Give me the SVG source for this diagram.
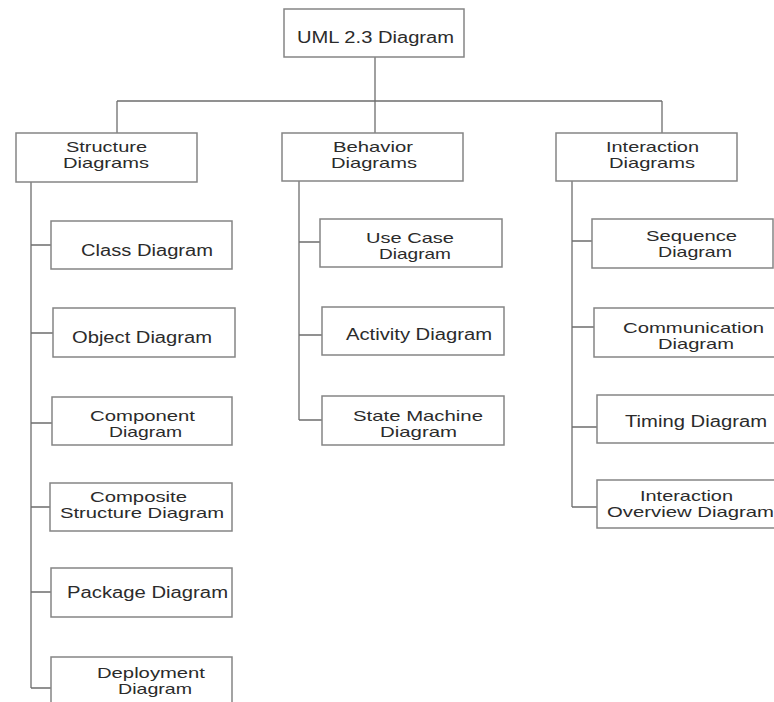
<svg xmlns="http://www.w3.org/2000/svg" width="774" height="702" viewBox="0 0 774 702">
<style>
.box{fill:#fff;stroke:#858585;stroke-width:1.5}
.lbl{font-family:"Liberation Sans",Arial,sans-serif;font-size:14.5px;fill:#2b2b2b}
.con{fill:none;stroke:#6e6e6e;stroke-width:1.3}
</style>
<rect width="774" height="702" fill="#fff"/>
<g id="connectors">
<path class="con" d="M375 57V133M117 101H662M117 101V133M662 101V133"/>
<path class="con" d="M31 182V688M31 245H51M31 333H53M31 423H52M31 507H50M31 592H51M31 688H51"/>
<path class="con" d="M299 181V420M299 242H320M299 335H322M299 420H322"/>
<path class="con" d="M572 181V507M572 241H592M572 327H594M572 427H597M572 507H597"/>
</g>
<g id="uml">
<rect class="box" x="284" y="9" width="180" height="48"/>
<text class="lbl" x="297" y="43" textLength="157" lengthAdjust="spacingAndGlyphs" style="font-size:16px">UML 2.3 Diagram</text>
</g>
<g id="structure">
<rect class="box" x="16" y="133" width="181" height="49"/>
<text class="lbl" x="66" y="152" textLength="81" lengthAdjust="spacingAndGlyphs">Structure</text>
<text class="lbl" x="63" y="168" textLength="86" lengthAdjust="spacingAndGlyphs">Diagrams</text>
</g>
<g id="behavior">
<rect class="box" x="282" y="133" width="181" height="48"/>
<text class="lbl" x="333" y="152" textLength="80" lengthAdjust="spacingAndGlyphs">Behavior</text>
<text class="lbl" x="331" y="168" textLength="86" lengthAdjust="spacingAndGlyphs">Diagrams</text>
</g>
<g id="interaction">
<rect class="box" x="556" y="133" width="181" height="48"/>
<text class="lbl" x="606" y="152" textLength="93" lengthAdjust="spacingAndGlyphs">Interaction</text>
<text class="lbl" x="609" y="168" textLength="86" lengthAdjust="spacingAndGlyphs">Diagrams</text>
</g>
<g id="class">
<rect class="box" x="51" y="221" width="181" height="48"/>
<text class="lbl" x="81" y="256" textLength="132" lengthAdjust="spacingAndGlyphs" style="font-size:16px">Class Diagram</text>
</g>
<g id="object">
<rect class="box" x="53" y="308" width="182" height="49"/>
<text class="lbl" x="72" y="343" textLength="140" lengthAdjust="spacingAndGlyphs" style="font-size:16px">Object Diagram</text>
</g>
<g id="component">
<rect class="box" x="52" y="397" width="180" height="48"/>
<text class="lbl" x="90" y="421" textLength="105" lengthAdjust="spacingAndGlyphs">Component</text>
<text class="lbl" x="109" y="437" textLength="73" lengthAdjust="spacingAndGlyphs">Diagram</text>
</g>
<g id="composite">
<rect class="box" x="50" y="483" width="182" height="48"/>
<text class="lbl" x="90" y="502" textLength="97" lengthAdjust="spacingAndGlyphs">Composite</text>
<text class="lbl" x="60" y="518" textLength="164" lengthAdjust="spacingAndGlyphs">Structure Diagram</text>
</g>
<g id="package">
<rect class="box" x="51" y="568" width="181" height="49"/>
<text class="lbl" x="67" y="598" textLength="161" lengthAdjust="spacingAndGlyphs" style="font-size:16px">Package Diagram</text>
</g>
<g id="deployment">
<rect class="box" x="51" y="657" width="181" height="50"/>
<text class="lbl" x="97" y="678" textLength="108" lengthAdjust="spacingAndGlyphs">Deployment</text>
<text class="lbl" x="118" y="694" textLength="74" lengthAdjust="spacingAndGlyphs">Diagram</text>
</g>
<g id="usecase">
<rect class="box" x="320" y="219" width="182" height="48"/>
<text class="lbl" x="366" y="243" textLength="88" lengthAdjust="spacingAndGlyphs">Use Case</text>
<text class="lbl" x="379" y="259" textLength="72" lengthAdjust="spacingAndGlyphs">Diagram</text>
</g>
<g id="activity">
<rect class="box" x="322" y="307" width="182" height="48"/>
<text class="lbl" x="346" y="340" textLength="146" lengthAdjust="spacingAndGlyphs" style="font-size:16px">Activity Diagram</text>
</g>
<g id="statemachine">
<rect class="box" x="322" y="396" width="182" height="49"/>
<text class="lbl" x="353" y="421" textLength="130" lengthAdjust="spacingAndGlyphs">State Machine</text>
<text class="lbl" x="380" y="437" textLength="77" lengthAdjust="spacingAndGlyphs">Diagram</text>
</g>
<g id="sequence">
<rect class="box" x="592" y="219" width="181" height="49"/>
<text class="lbl" x="646" y="241" textLength="91" lengthAdjust="spacingAndGlyphs">Sequence</text>
<text class="lbl" x="658" y="257" textLength="74" lengthAdjust="spacingAndGlyphs">Diagram</text>
</g>
<g id="communication">
<rect class="box" x="594" y="308" width="190" height="49"/>
<text class="lbl" x="623" y="333" textLength="141" lengthAdjust="spacingAndGlyphs">Communication</text>
<text class="lbl" x="658" y="349" textLength="76" lengthAdjust="spacingAndGlyphs">Diagram</text>
</g>
<g id="timing">
<rect class="box" x="597" y="395" width="190" height="48"/>
<text class="lbl" x="625" y="427" textLength="142" lengthAdjust="spacingAndGlyphs" style="font-size:16px">Timing Diagram</text>
</g>
<g id="overview">
<rect class="box" x="597" y="480" width="190" height="48"/>
<text class="lbl" x="640" y="501" textLength="93" lengthAdjust="spacingAndGlyphs">Interaction</text>
<text class="lbl" x="607" y="517" textLength="167" lengthAdjust="spacingAndGlyphs">Overview Diagram</text>
</g>
</svg>
